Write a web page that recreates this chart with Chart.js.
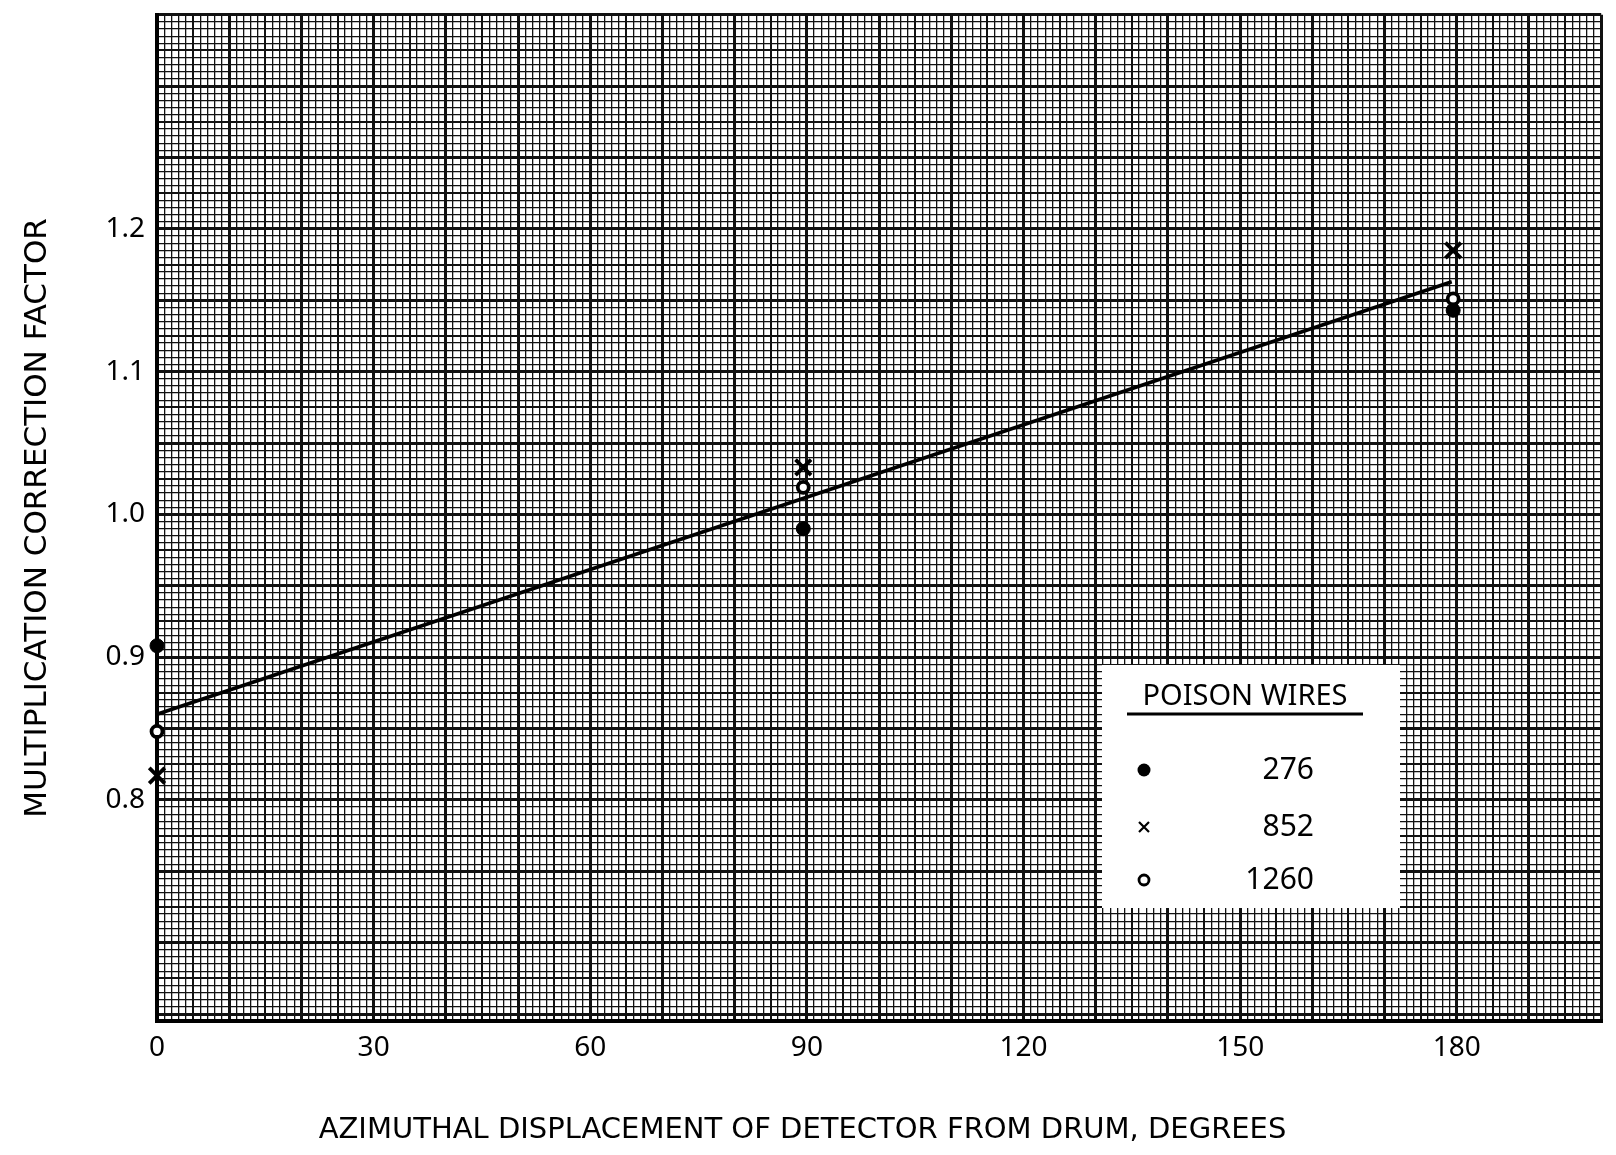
<!DOCTYPE html>
<html>
<head>
<meta charset="utf-8">
<script src="https://cdn.jsdelivr.net/npm/chart.js@4/dist/chart.umd.min.js"></script>
<style>
  body { margin: 0; background: #fff; }
  canvas { display: block; }
</style>
</head>
<body>
<canvas id="chart" width="1616" height="1155"></canvas>
<script>
// values
const angles = [0, 89.5, 179.5]
const wires276 = [0.908, 0.99, 1.143]
const wires852 = [0.817, 1.033, 1.185]
const wires1260 = [0.848, 1.019, 1.151]

const fitAngles = [0, 179.3]
const fitValues = [0.86, 1.163]

const seriesLabels = ['276', '852', '1260']
const xTickLabels = [0, 30, 60, 90, 120, 150, 180]
const yTickLabels = [0.8, 0.9, 1.0, 1.1, 1.2]

const FONT = 'Noto Sans'
const TITLE_FONT = 'DejaVu Sans'

function toPoints(xs, ys) {
    return xs.map((x, i) => ({ x: x, y: ys[i] }))
}

// paper grid: fine / medium / heavy lines
function xGridWidth(ctx) {
    if (!ctx.tick) return 1.3
    const v = Math.round(ctx.tick.value)
    if (v % 10 === 0) return 3
    if (v % 5 === 0) return 2
    return 1.3
}

function yGridWidth(ctx) {
    if (!ctx.tick) return 1.3
    const v = Math.round(ctx.tick.value / 0.005)
    if (v % 10 === 0) return 3
    if (v % 5 === 0) return 2
    return 1.3
}

function noPadding(scale) {
    scale.paddingTop = 0
    scale.paddingBottom = 0
    scale.paddingLeft = 0
    scale.paddingRight = 0
}

// legend box sitting on the paper
const legendBox = {
    id: 'legendBox',
    beforeDatasetsDraw(chart) {
        const ctx = chart.ctx
        ctx.save()
        ctx.fillStyle = '#fff'
        ctx.fillRect(1102, 665, 298, 243)

        ctx.fillStyle = '#000'
        ctx.font = '29px "' + FONT + '"'
        ctx.textAlign = 'center'
        ctx.textBaseline = 'middle'
        ctx.fillText('POISON WIRES', 1245, 697)
        ctx.lineWidth = 3
        ctx.beginPath()
        ctx.moveTo(1127, 714)
        ctx.lineTo(1363, 714)
        ctx.stroke()

        const rows = [770, 827, 880]
        chart.data.datasets.forEach((ds, i) => {
            if (!ds.label) return
            const y = rows[i]
            const x = 1144
            ctx.strokeStyle = '#000'
            ctx.fillStyle = '#000'
            if (ds.pointStyle === 'crossRot') {
                ctx.lineWidth = 2.2
                ctx.beginPath()
                ctx.moveTo(x - 5, y - 5); ctx.lineTo(x + 5, y + 5)
                ctx.moveTo(x + 5, y - 5); ctx.lineTo(x - 5, y + 5)
                ctx.stroke()
            } else if (ds.pointBackgroundColor === '#fff') {
                ctx.lineWidth = 2.8
                ctx.beginPath()
                ctx.arc(x, y, 5, 0, Math.PI * 2)
                ctx.stroke()
            } else {
                ctx.beginPath()
                ctx.arc(x, y, 6.5, 0, Math.PI * 2)
                ctx.fill()
            }
            ctx.font = '30px "' + FONT + '"'
            ctx.textAlign = 'right'
            ctx.fillText(ds.label, 1314, y)
        })
        ctx.restore()
    }
}

new Chart(document.getElementById('chart'), {
    type: 'scatter',
    data: {
        datasets: [
            {
                label: seriesLabels[0],
                data: toPoints(angles, wires276),
                pointStyle: 'circle',
                pointRadius: 7,
                pointBorderWidth: 1,
                pointBackgroundColor: '#000',
                pointBorderColor: '#000',
                clip: false
            },
            {
                label: seriesLabels[1],
                data: toPoints(angles, wires852),
                pointStyle: 'crossRot',
                pointRadius: 11,
                pointBorderWidth: 3.8,
                pointBorderColor: '#000',
                clip: false
            },
            {
                label: seriesLabels[2],
                data: toPoints(angles, wires1260),
                pointStyle: 'circle',
                pointRadius: 5.5,
                pointBorderWidth: 3.8,
                pointBackgroundColor: '#fff',
                pointBorderColor: '#000',
                clip: false
            },
            {
                label: '',
                data: toPoints(fitAngles, fitValues),
                showLine: true,
                borderColor: '#000',
                borderWidth: 3.5,
                pointRadius: 0,
                clip: false
            }
        ]
    },
    options: {
        responsive: false,
        animation: false,
        layout: { padding: { top: 10, right: 11, left: 0, bottom: 0 } },
        plugins: {
            legend: { display: false },
            tooltip: { enabled: false },
            title: {
                display: true,
                position: 'bottom',
                text: 'AZIMUTHAL DISPLACEMENT OF DETECTOR FROM DRUM, DEGREES',
                color: '#000',
                font: { family: TITLE_FONT, size: 29, weight: 'normal' },
                padding: { top: 0, bottom: 7 }
            }
        },
        scales: {
            x: {
                type: 'linear',
                min: 0,
                max: 200,
                afterFit(scale) {
                    scale.height = 92
                    noPadding(scale)
                },
                ticks: {
                    stepSize: 1,
                    autoSkip: false,
                    maxRotation: 0,
                    padding: 10,
                    color: '#000',
                    font: { family: FONT, size: 28 },
                    callback: value => xTickLabels.includes(value) ? String(value) : ''
                },
                grid: {
                    drawTicks: false,
                    color: '#111',
                    lineWidth: xGridWidth
                },
                border: { display: true, color: '#000', width: 4 }
            },
            y: {
                type: 'linear',
                min: 0.645,
                max: 1.35,
                afterFit(scale) {
                    scale.width = 157
                    noPadding(scale)
                },
                ticks: {
                    stepSize: 0.005,
                    autoSkip: false,
                    padding: 12,
                    color: '#000',
                    font: { family: FONT, size: 28 },
                    callback: value => {
                        const hit = yTickLabels.find(v => Math.abs(v - value) < 1e-6)
                        return hit === undefined ? '' : hit.toFixed(1)
                    }
                },
                grid: {
                    drawTicks: false,
                    color: '#111',
                    lineWidth: yGridWidth
                },
                border: { display: true, color: '#000', width: 4 },
                title: {
                    display: true,
                    text: 'MULTIPLICATION CORRECTION FACTOR',
                    color: '#000',
                    font: { family: TITLE_FONT, size: 31 },
                    padding: { top: 19, bottom: 0 }
                }
            }
        }
    },
    plugins: [legendBox]
})
</script>
</body>
</html>
